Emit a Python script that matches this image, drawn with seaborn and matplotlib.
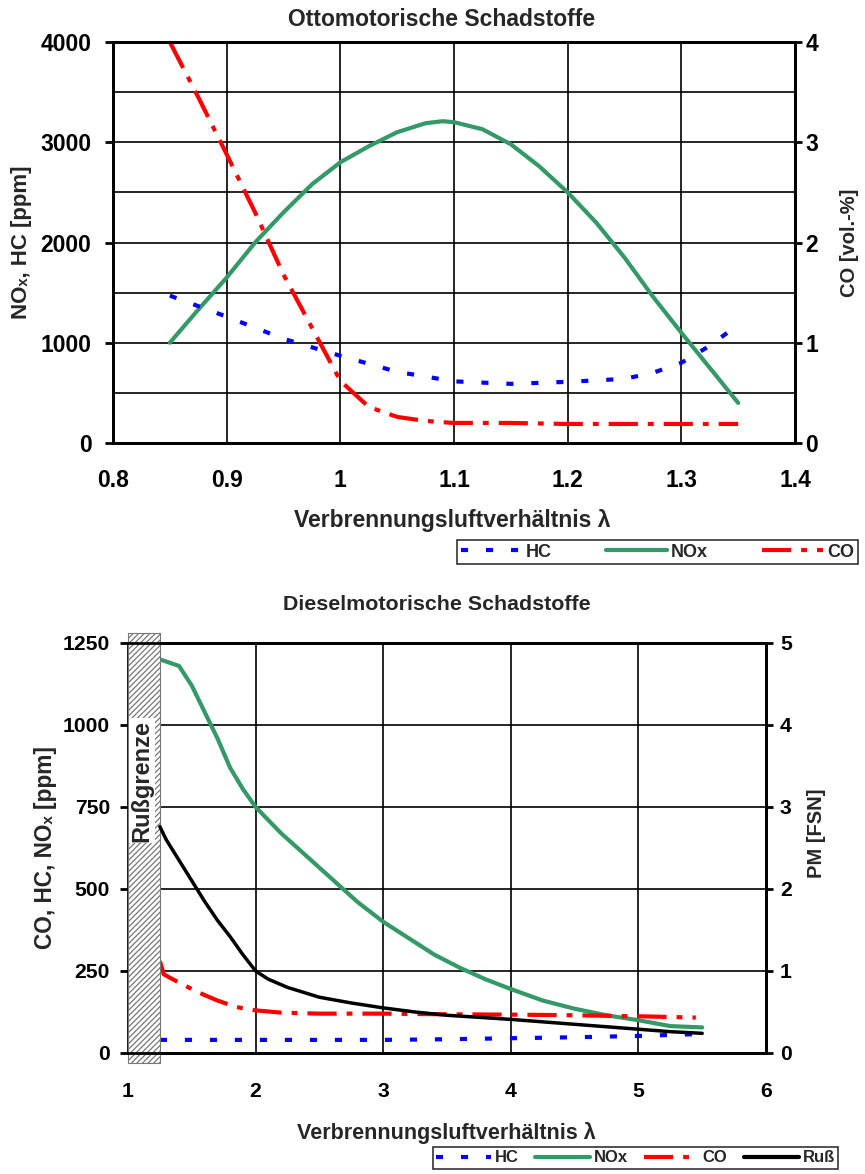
import pandas as pd
import matplotlib.pyplot as plt
import seaborn as sns
from matplotlib.patches import Rectangle
from matplotlib.ticker import MultipleLocator
from matplotlib.lines import Line2D

sns.set_theme(style="white")
plt.rcParams["font.family"] = ["Liberation Sans", "DejaVu Sans"]
plt.rcParams["font.weight"] = "bold"
plt.rcParams["hatch.linewidth"] = 0.9

# ----- Otto engine data -----
otto_nox_lam = [0.85, 0.875, 0.9, 0.925, 0.95, 0.975, 1.0, 1.025, 1.05, 1.075, 1.09, 1.1,
                1.125, 1.15, 1.175, 1.2, 1.225, 1.25, 1.275, 1.3, 1.325, 1.35]
otto_nox = [1000, 1330, 1650, 2000, 2300, 2580, 2800, 2960, 3100, 3190, 3210, 3200,
            3130, 2980, 2760, 2500, 2200, 1850, 1460, 1100, 750, 400]

otto_hc_lam = [0.85, 0.9, 0.95, 1.0, 1.05, 1.1, 1.15, 1.2, 1.25, 1.275, 1.3, 1.325, 1.35]
otto_hc = [1470, 1260, 1040, 870, 710, 615, 590, 610, 640, 700, 800, 970, 1180]

otto_co_lam = [0.85, 0.875, 0.9, 0.925, 0.95, 0.975, 1.0, 1.025, 1.05, 1.075, 1.1,
               1.15, 1.2, 1.25, 1.3, 1.35]
otto_co = [4.0, 3.45, 2.88, 2.30, 1.68, 1.15, 0.62, 0.36, 0.26, 0.22, 0.20,
           0.20, 0.19, 0.19, 0.19, 0.19]

# ----- Diesel engine data -----
dies_nox_lam = [1.25, 1.4, 1.5, 1.6, 1.7, 1.8, 1.9, 2.0, 2.2, 2.4, 2.6, 2.8, 3.0, 3.2, 3.4,
                3.6, 3.8, 4.0, 4.25, 4.5, 4.75, 5.0, 5.25, 5.5]
dies_nox = [1200, 1180, 1120, 1040, 960, 870, 805, 750, 670, 600, 530, 460, 400, 350, 300,
            260, 225, 195, 160, 135, 115, 100, 82, 78]

dies_hc_lam = [1.25, 2.0, 3.0, 3.5, 4.0, 4.5, 5.0, 5.5]
dies_hc = [40, 40, 40, 42, 45, 48, 52, 58]

dies_co_lam = [1.25, 1.28, 1.35, 1.45, 1.55, 1.7, 1.85, 2.0, 2.2, 2.5, 3.0, 3.5, 4.0, 4.5,
               5.0, 5.45]
dies_co = [280, 240, 225, 205, 185, 160, 140, 130, 123, 120, 120, 118, 117, 115, 112, 108]

dies_soot_lam = [1.25, 1.3, 1.4, 1.5, 1.6, 1.7, 1.8, 1.9, 2.0, 2.1, 2.25, 2.5, 2.75, 3.0,
                 3.25, 3.5, 4.0, 4.5, 5.0, 5.25, 5.5]
dies_soot = [2.76, 2.6, 2.35, 2.1, 1.85, 1.62, 1.42, 1.2, 1.0, 0.9, 0.80, 0.68, 0.61, 0.55,
             0.50, 0.46, 0.41, 0.35, 0.29, 0.26, 0.24]

BLUE = "#0000ff"
GREEN = "#339966"
RED = "#ff0000"
HC_LS = (0, (1.7, 4.3))
CO_LS = (0, (7, 2.4, 1.4, 2.4))

fig = plt.figure(figsize=(8.65, 11.74), dpi=100)


def style_axes(ax, ax2, size):
    for a in (ax, ax2):
        for s in a.spines.values():
            s.set_color("black")
            s.set_linewidth(2)
    ax.grid(True, which="both", color="black", linewidth=1.2)
    ax.set_axisbelow(True)
    ax.tick_params(axis="both", which="major", direction="out", length=6, width=2,
                   colors="black", labelsize=size)
    ax.tick_params(axis="y", which="minor", length=0)
    ax2.tick_params(axis="y", direction="out", length=5, width=2, colors="black",
                    labelsize=size)
    ax.set_xlabel("")
    ax.set_ylabel("")
    ax2.set_xlabel("")
    ax2.set_ylabel("")


# ================= Otto =================
ax1 = fig.add_axes([113 / 865, 1 - 443 / 1174, 682 / 865, 401 / 1174])
ax1b = ax1.twinx()

sns.lineplot(data=pd.DataFrame({"lam": otto_nox_lam, "v": otto_nox}), x="lam", y="v",
             ax=ax1, color=GREEN, linewidth=3)
sns.lineplot(data=pd.DataFrame({"lam": otto_hc_lam, "v": otto_hc}), x="lam", y="v",
             ax=ax1, color=BLUE, linewidth=3, linestyle=HC_LS)
sns.lineplot(data=pd.DataFrame({"lam": otto_co_lam, "v": otto_co}), x="lam", y="v",
             ax=ax1b, color=RED, linewidth=3, linestyle=CO_LS)

ax1.set_xlim(0.8, 1.4)
ax1.set_ylim(0, 4000)
ax1b.set_ylim(0, 4)
ax1.yaxis.set_major_locator(MultipleLocator(1000))
ax1.yaxis.set_minor_locator(MultipleLocator(500))
ax1b.yaxis.set_major_locator(MultipleLocator(1))
ax1.set_xticks([0.8, 0.9, 1.0, 1.1, 1.2, 1.3, 1.4])
ax1.set_xticklabels(["0.8", "0.9", "1", "1.1", "1.2", "1.3", "1.4"])
style_axes(ax1, ax1b, 16.5)
ax1.tick_params(axis="x", pad=13)
ax1.tick_params(axis="y", pad=9.5)
ax1b.tick_params(axis="y", pad=2.5)

ax1.set_ylabel("NOₓ, HC [ppm]", fontsize=16, fontweight="bold")
ax1.yaxis.set_label_coords((32 - 113) / 682, 0.5)
ax1b.set_ylabel("CO [vol.-%]", fontsize=14.5, fontweight="bold")
ax1b.yaxis.set_label_coords(1 + (840 - 795) / 682, 0.5)

fig.text(442 / 865, 1 - 20 / 1174, "Ottomotorische Schadstoffe", ha="center", va="center",
         fontsize=16.5, fontweight="bold")
fig.text(452 / 865, 1 - 520 / 1174, "Verbrennungsluftverhältnis λ", ha="center",
         va="center", fontsize=16.5, fontweight="bold")

h_otto = [Line2D([], [], color=BLUE, lw=3, linestyle=HC_LS),
          Line2D([], [], color=GREEN, lw=3),
          Line2D([], [], color=RED, lw=3, linestyle=CO_LS)]
leg1 = fig.legend(h_otto, ["HC", "NOx", "CO"], loc="upper left",
                  bbox_to_anchor=(457 / 865, 1 - 540 / 1174), ncol=3, frameon=True,
                  fancybox=False, edgecolor="black", fontsize=13, handlelength=3.4,
                  handletextpad=0.2, columnspacing=3.0, borderpad=0.2,
                  borderaxespad=0)
leg1.get_frame().set_linewidth(1.2)

# ================= Diesel =================
ax2 = fig.add_axes([128 / 865, 1 - 1053 / 1174, 638 / 865, 410 / 1174])
ax2b = ax2.twinx()

sns.lineplot(data=pd.DataFrame({"lam": dies_nox_lam, "v": dies_nox}), x="lam", y="v",
             ax=ax2, color=GREEN, linewidth=3)
sns.lineplot(data=pd.DataFrame({"lam": dies_co_lam, "v": dies_co}), x="lam", y="v",
             ax=ax2, color=RED, linewidth=3, linestyle=CO_LS)
sns.lineplot(data=pd.DataFrame({"lam": dies_hc_lam, "v": dies_hc}), x="lam", y="v",
             ax=ax2, color=BLUE, linewidth=3, linestyle=HC_LS)
sns.lineplot(data=pd.DataFrame({"lam": dies_soot_lam, "v": dies_soot}), x="lam", y="v",
             ax=ax2b, color="black", linewidth=2.5)

ax2.set_xlim(1, 6)
ax2.set_ylim(0, 1250)
ax2b.set_ylim(0, 5)
ax2.xaxis.set_major_locator(MultipleLocator(1))
ax2.yaxis.set_major_locator(MultipleLocator(250))
ax2b.yaxis.set_major_locator(MultipleLocator(1))
style_axes(ax2, ax2b, 15.2)
ax2b.tick_params(axis="y", pad=5)
ax2.tick_params(axis="x", pad=15)
ax2.tick_params(axis="y", pad=7)
ax2b.spines["left"].set_visible(False)

# soot limit region
ax2.add_patch(Rectangle((1.0, -30), 0.25, 1312, facecolor="white", edgecolor="#777777",
                        hatch="//////", linewidth=0.8, clip_on=False, zorder=3))
ax2.text(1.11, 830, "Rußgrenze", rotation=90, ha="center", va="center", fontsize=17,
         fontweight="bold", zorder=4, clip_on=False,
         bbox=dict(facecolor="white", edgecolor="none", pad=1.0))

ax2.set_ylabel("CO, HC, NOₓ [ppm]", fontsize=16.3, fontweight="bold")
ax2.yaxis.set_label_coords((57 - 128) / 638, 0.5)
ax2b.set_ylabel("PM [FSN]", fontsize=14.5, fontweight="bold")
ax2b.yaxis.set_label_coords(1 + (807 - 766) / 638, 0.537)

fig.text(437 / 865, 1 - 605 / 1174, "Dieselmotorische Schadstoffe", ha="center",
         va="center", fontsize=15.4, fontweight="bold")
fig.text(446 / 865, 1 - 1133 / 1174, "Verbrennungsluftverhältnis λ", ha="center",
         va="center", fontsize=15.5, fontweight="bold")

h_dies = [Line2D([], [], color=BLUE, lw=3, linestyle=HC_LS),
          Line2D([], [], color=GREEN, lw=3),
          Line2D([], [], color=RED, lw=3, linestyle=CO_LS),
          Line2D([], [], color="black", lw=3)]
leg2 = fig.legend(h_dies, ["HC", "NOx", "CO", "Ruß"], loc="upper left",
                  bbox_to_anchor=(433 / 865, 1 - 1147 / 1174), ncol=4, frameon=True,
                  fancybox=False, edgecolor="black", fontsize=12, handlelength=3.3,
                  handletextpad=0.2, columnspacing=1.0, borderpad=0.2,
                  borderaxespad=0)
leg2.get_frame().set_linewidth(1.2)

fig.savefig("out.png", dpi=100)
